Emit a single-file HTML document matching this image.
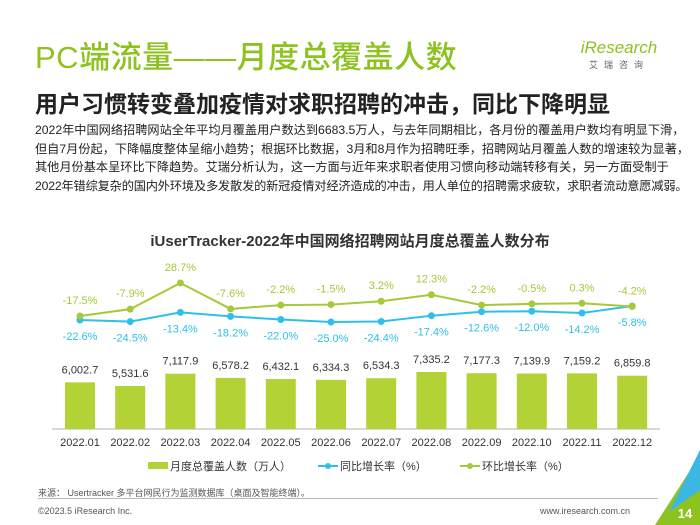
<!DOCTYPE html>
<html><head><meta charset="utf-8">
<style>
body{margin:0;width:700px;height:525px;overflow:hidden;background:#fff;font-family:"Liberation Sans","Noto Sans CJK SC",sans-serif;position:relative}
.abs{position:absolute}
.dl{white-space:nowrap}
</style></head>
<body>
<div class="abs" style="left:35px;top:32px;font-size:31px;color:#8dc21f;font-weight:500;letter-spacing:0.5px">PC端流量——月度总覆盖人数</div>
<div class="abs" style="left:578px;top:38px;width:82px;text-align:center">
 <div style="font-size:17px;color:#8dc21f;font-style:italic">iResearch</div>
 <div style="font-size:9px;color:#666;letter-spacing:6px">艾瑞咨询</div>
</div>
<div class="abs" style="left:35px;top:85px;font-size:23px;font-weight:bold;color:#222">用户习惯转变叠加疫情对求职招聘的冲击，同比下降明显</div>
<div class="abs" style="left:35px;top:121px;font-size:12.2px;line-height:18.5px;color:#222">
<div class="dl">2022年中国网络招聘网站全年平均月覆盖用户数达到6683.5万人，与去年同期相比，各月份的覆盖用户数均有明显下滑，</div>
<div class="dl">但自7月份起，下降幅度整体呈缩小趋势；根据环比数据，3月和8月作为招聘旺季，招聘网站月覆盖人数的增速较为显著，</div>
<div class="dl">其他月份基本呈环比下降趋势。艾瑞分析认为，这一方面与近年来求职者使用习惯向移动端转移有关，另一方面受制于</div>
<div class="dl" style="letter-spacing:-0.15px">2022年错综复杂的国内外环境及多发散发的新冠疫情对经济造成的冲击，用人单位的招聘需求疲软，求职者流动意愿减弱。</div>
</div>
<div class="abs" style="left:0;width:700px;top:230px;text-align:center;font-size:15px;font-weight:bold;color:#333">iUserTracker-2022年中国网络招聘网站月度总覆盖人数分布</div>
<svg class="abs" style="left:0;top:0" width="700" height="525" id="chart"></svg>
<div class="abs" style="left:38px;top:486px;font-size:9px;color:#555">来源： Usertracker 多平台网民行为监测数据库（桌面及智能终端）。</div>
<div class="abs" style="left:38px;top:498px;width:620px;height:1px;background:#bbb"></div>
<div class="abs" style="left:38px;top:506px;font-size:9px;color:#555">©2023.5 iResearch Inc.</div>
<div class="abs" style="left:540px;top:506px;font-size:9px;color:#555">www.iresearch.com.cn</div>
<svg class="abs" style="left:655px;top:440px" width="45" height="85">
<polygon points="45,15 45,85 0,85" fill="#8dc21f"/><polygon points="45,10 45,50 14,72" fill="#3cb6e3"/>
<text x="30" y="78" font-size="13" fill="#fff" font-weight="bold" text-anchor="middle">14</text></svg>
<script>
const categories=["2022.01","2022.02","2022.03","2022.04","2022.05","2022.06","2022.07","2022.08","2022.09","2022.10","2022.11","2022.12"];
const users=[6002.7,5531.6,7117.9,6578.2,6432.1,6334.3,6534.3,7335.2,7177.3,7139.9,7159.2,6859.8];
const yoy=[-22.6,-24.5,-13.4,-18.2,-22.0,-25.0,-24.4,-17.4,-12.6,-12.0,-14.2,-5.8];
const mom=[-17.5,-7.9,28.7,-7.6,-2.2,-1.5,3.2,12.3,-2.2,-0.5,0.3,-4.2];
const svg=document.getElementById('chart');const NS='http://www.w3.org/2000/svg';
function x(i){return 80+i*50.2;}
function yBar(v){return 429-v*0.00777;}
function yMom(v){return 316-(v+17.5)*0.714;}
function yYoy(v){return 322-(v+25)*0.83;}
function mk(t,a){const e=document.createElementNS(NS,t);for(const k in a)e.setAttribute(k,a[k]);svg.appendChild(e);return e;}
function fmt(v){return v.toLocaleString('en-US',{minimumFractionDigits:1,maximumFractionDigits:1});}
let ax=mk('line',{x1:52,x2:660,y1:429,y2:429,stroke:'#ccc','stroke-width':1.5});


users.forEach((v,i)=>{
 let r=mk('rect',{x:x(i)-15,y:yBar(v),width:30,height:429-yBar(v),fill:'#b2d235'});
 
 
 let t=mk('text',{x:x(i),y:yBar(v)-9,'font-size':11,'text-anchor':'middle',fill:'#333'});t.textContent=fmt(v);
 
 
 let c=mk('text',{x:x(i),y:446,'font-size':11,'text-anchor':'middle',fill:'#333'});c.textContent=categories[i];
 
 
});
function series(vals,yf,color,name,above){
 let p=mk('polyline',{points:vals.map((v,i)=>x(i)+','+yf(v)).join(' '),fill:'none',stroke:color,'stroke-width':2});
 
 
 vals.forEach((v,i)=>{
  let c=mk('circle',{cx:x(i),cy:yf(v),r:3.5,fill:color});
  
  
  let t=mk('text',{x:x(i),y:above?yf(v)-12:yf(v)+20,'font-size':11,'text-anchor':'middle',fill:color});
  t.textContent=v.toFixed(1)+'%';
  
  
 });
}
series(yoy,yYoy,'#2fc0ea','yoy',false);
series(mom,yMom,'#a5c93a','mom',true);
let lg=[['bar','#b2d235','月度总覆盖人数（万人）',148],['yoy','#2fc0ea','同比增长率（%）',318],['mom','#a5c93a','环比增长率（%）',460]];
lg.forEach(l=>{
 if(l[0]=='bar'){let r=mk('rect',{x:l[3],y:462,width:20,height:7,fill:l[1]});}
 else{let a=mk('line',{x1:l[3],x2:l[3]+20,y1:466,y2:466,stroke:l[1],'stroke-width':2});mk('circle',{cx:l[3]+10,cy:466,r:3,fill:l[1]});}
 let t=mk('text',{x:l[3]+22,y:470,'font-size':11,fill:'#333'});t.textContent=l[2];
 
 
});
</script>
</body></html>
